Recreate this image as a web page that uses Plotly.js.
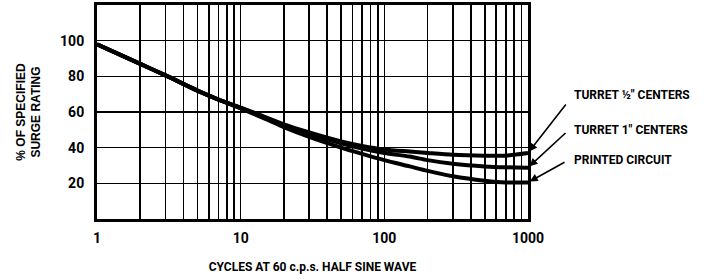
<!DOCTYPE html>
<html>
<head>
<meta charset="utf-8">
<script src="https://cdn.plot.ly/plotly-3.0.1.min.js"></script>
<style>
html,body{margin:0;padding:0;background:#fff;}
#chart{width:703px;height:279px;}
</style>
</head>
<body>
<div id="chart"></div>
<script>
// Data
const cycles = [1, 2, 3, 5, 7, 10, 15, 20, 30, 50, 70, 100, 150, 200, 300, 500, 700, 1000];
const turretHalf = [98, 87, 80.5, 72, 67, 62.5, 57, 53, 48.5, 43.5, 41, 39, 37.8, 37, 36, 35.5, 35.5, 37];
const turretOne  = [98, 87, 80.5, 72, 67, 62.3, 56.6, 52.5, 47.8, 42.5, 39.5, 37, 35, 33, 31, 29.5, 29, 28.8];
const printed    = [98, 87, 80.5, 72, 67, 62, 56, 51.5, 46, 40, 36.5, 33, 29.5, 27, 24, 21.5, 20.5, 20.5];
const seriesNames = ['TURRET ½" CENTERS', 'TURRET 1" CENTERS', 'PRINTED CIRCUIT'];
const xTickVals = [1,2,3,4,5,6,7,8,9,10,20,30,40,50,60,70,80,90,100,200,300,400,500,600,700,800,900,1000];
const xTickText = ['1','','','','','','','','','10','','','','','','','','','100','','','','','','','','','1000'];
const yTickVals = [0, 20, 40, 60, 80, 100, 120];
const yTickText = ['', '20', '40', '60', '80', '100', ''];

const FONT = 'Roboto, Liberation Sans, sans-serif';
const series = [turretHalf, turretOne, printed];
const traces = series.map((ys, i) => ({
  x: cycles, y: ys, type: 'scatter', mode: 'lines', name: seriesNames[i],
  line: {color: '#000', width: 4, shape: 'spline', smoothing: 0.8},
  showlegend: false, hoverinfo: 'skip'
}));

const tails = [[39, -50], [39, -36], [38, -21]];
const labelY = [95, 130, 160];
const L = 97, R = 175, T = 5, B = 60, W = 703, H = 279;
const annotations = [];
series.forEach((ys, i) => {
  annotations.push({
    x: Math.log10(cycles[cycles.length - 1]), y: ys[ys.length - 1], xref: 'x', yref: 'y',
    ax: tails[i][0], ay: tails[i][1], axref: 'pixel', ayref: 'pixel',
    text: '', showarrow: true, arrowhead: 2, arrowsize: 1, arrowwidth: 1.6, arrowcolor: '#000', standoff: 2
  });
  annotations.push({
    x: (573 - L) / (W - L - R), y: 1 - (labelY[i] - T) / (H - T - B), xref: 'paper', yref: 'paper',
    text: seriesNames[i], showarrow: false, xanchor: 'left', yanchor: 'middle', borderpad: 0,
    font: {family: FONT, size: 12, color: '#000', weight: 'bold'}
  });
});

const layout = {
  width: W, height: H,
  margin: {l: L, r: R, t: T, b: B, pad: 0},
  paper_bgcolor: '#fff', plot_bgcolor: '#fff',
  font: {family: FONT, size: 13, color: '#000', weight: 'bold'},
  xaxis: {
    type: 'log', range: [0, 3], tickvals: xTickVals, ticktext: xTickText,
    showgrid: true, gridcolor: '#000', gridwidth: 1.6,
    showline: true, mirror: true, linecolor: '#000', linewidth: 3,
    ticks: '', zeroline: false, ticklabelstandoff: 4,
    tickfont: {family: FONT, size: 14, color: '#000', weight: 'bold'},
    title: {text: 'CYCLES AT 60 c.p.s. HALF SINE WAVE', standoff: 18,
            font: {family: FONT, size: 12, color: '#000', weight: 'bold'}}
  },
  yaxis: {
    range: [0, 120], tickvals: yTickVals, ticktext: yTickText,
    showgrid: true, gridcolor: '#000', gridwidth: 1.6,
    showline: true, mirror: true, linecolor: '#000', linewidth: 3,
    ticks: '', zeroline: false, ticklabelstandoff: 7,
    tickfont: {family: FONT, size: 14, color: '#000', weight: 'bold'},
    title: {text: '% OF SPECIFIED<br>SURGE RATING', standoff: 17,
            font: {family: 'Liberation Sans, sans-serif', size: 12, color: '#000', weight: 'bold'}}
  },
  annotations: annotations
};

Plotly.newPlot('chart', traces, layout, {displayModeBar: false, staticPlot: true});
</script>
</body>
</html>
